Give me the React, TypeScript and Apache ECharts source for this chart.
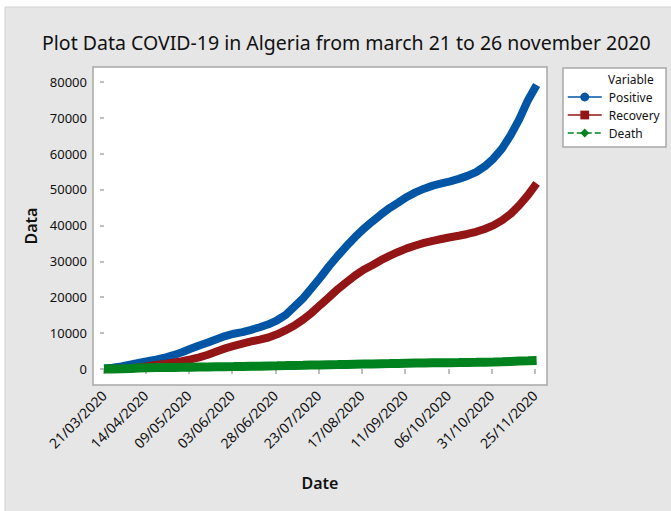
import React, { useEffect, useRef } from "react";
import * as echarts from "echarts";

const days = [
  0, 5, 10, 15, 20, 25, 30, 35, 40, 45, 50, 55, 60, 65, 70, 75, 80, 85, 90, 95,
  100, 105, 110, 115, 120, 125, 130, 135, 140, 145, 150, 155, 160, 165, 170,
  175, 180, 185, 190, 195, 200, 205, 210, 215, 220, 225, 230, 235, 240, 245, 250,
];

const positive = [
  139, 367, 716, 1220, 1700, 2160, 2629, 3127, 3848, 4648, 5623, 6529, 7377,
  8303, 9167, 9831, 10265, 10919, 11631, 12445, 13571, 15070, 17348, 19689,
  22549, 25484, 28615, 31465, 34155, 36699, 39025, 41068, 43016, 44833, 46364,
  47907, 49194, 50214, 51067, 51690, 52268, 52940, 53777, 54829, 56419, 58574,
  61381, 65108, 69591, 74862, 79110,
];

const recovery = [
  30, 40, 70, 90, 400, 800, 1150, 1400, 1780, 2200, 2680, 3250, 3970, 4900,
  5750, 6450, 7080, 7670, 8200, 8770, 9670, 10800, 12100, 13750, 15650, 17850,
  20000, 22200, 24100, 26000, 27650, 28900, 30300, 31500, 32600, 33600, 34400,
  35100, 35700, 36200, 36700, 37100, 37600, 38200, 39000, 40000, 41400, 43200,
  45600, 48400, 51700,
];

const death = [
  17, 25, 44, 130, 256, 336, 384, 419, 444, 465, 502, 536, 561, 609, 653, 683,
  715, 767, 788, 861, 905, 952, 1004, 1040, 1087, 1124, 1174, 1223, 1273, 1322,
  1370, 1418, 1475, 1510, 1556, 1614, 1659, 1689, 1718, 1747, 1775, 1795, 1827,
  1856, 1907, 1964, 2036, 2111, 2196, 2272, 2352,
];

const xTickDays = [0, 24, 49, 74, 99, 124, 149, 174, 199, 224, 249];
const xTickLabels = [
  "21/03/2020",
  "14/04/2020",
  "09/05/2020",
  "03/06/2020",
  "28/06/2020",
  "23/07/2020",
  "17/08/2020",
  "11/09/2020",
  "06/10/2020",
  "31/10/2020",
  "25/11/2020",
];
const yTicks = [0, 10000, 20000, 30000, 40000, 50000, 60000, 70000, 80000];

const BLUE = "#0055A5";
const RED = "#931515";
const GREEN = "#00821E";
const FONT = "'Noto Sans', 'Open Sans', sans-serif";

export default function App() {
  const ref = useRef<HTMLDivElement>(null);
  useEffect(() => {
    document.body.style.margin = "0";
    if (!ref.current) return;
    const chart = echarts.init(ref.current, undefined, { renderer: "svg" });
    const pair = (arr: number[]) => days.map((d, i) => [d, arr[i]]);
    chart.setOption({
      animation: false,
      backgroundColor: "#ffffff",
      textStyle: { fontFamily: FONT },
      graphic: [
        {
          type: "rect",
          z: -10,
          shape: { x: 5, y: 7, width: 680, height: 520 },
          style: { fill: "#E6E6E6", stroke: "#D2D2D2", lineWidth: 1 },
        },
        {
          type: "rect",
          z: 0,
          shape: { x: 563, y: 68, width: 103, height: 79 },
          style: { fill: "#ffffff", stroke: "#A8A8A8", lineWidth: 1.5 },
        },
        {
          type: "text",
          z: 1,
          x: 608,
          y: 73,
          style: {
            text: "Variable",
            font: `12px ${FONT}`,
            fill: "#111",
          },
        },
      ],
      title: {
        text: "Plot Data COVID-19 in Algeria from march 21 to 26 november 2020",
        left: 37,
        top: 27,
        textStyle: {
          fontFamily: FONT,
          fontSize: 19.5,
          fontWeight: "normal",
          color: "#111",
        },
      },
      legend: {
        orient: "vertical",
        left: 567,
        top: 91,
        padding: 0,
        itemWidth: 34,
        itemHeight: 11,
        itemGap: 6,
        z: 5,
        textStyle: { fontFamily: FONT, fontSize: 12, color: "#111", padding: [0, 0, 0, 2] },
        data: [
          { name: "Positive", lineStyle: { width: 1.5, type: "solid" } },
          { name: "Recovery", lineStyle: { width: 1.5, type: "solid" } },
          { name: "Death", lineStyle: { width: 1.5, type: "dashed" } },
        ],
      },
      grid: {
        left: 93,
        top: 67,
        right: 124,
        bottom: 126,
        show: true,
        backgroundColor: "#ffffff",
        borderColor: "#A8A8A8",
        borderWidth: 1.5,
      },
      xAxis: {
        type: "value",
        min: -6.4,
        max: 256,
        name: "Date",
        nameLocation: "middle",
        nameGap: 90,
        nameTextStyle: { fontFamily: FONT, fontSize: 16, fontWeight: 600, color: "#111" },
        axisLine: { show: false },
        splitLine: { show: false },
        axisTick: {
          show: true,
          length: 5,
          customValues: xTickDays,
          lineStyle: { color: "#A8A8A8", width: 1.5 },
        },
        axisLabel: {
          customValues: xTickDays,
          rotate: 45,
          fontSize: 14,
          color: "#111",
          fontFamily: FONT,
          margin: 8,
          formatter: (v: number) => {
            const i = xTickDays.indexOf(Math.round(v));
            return i >= 0 ? xTickLabels[i] : "";
          },
        },
      },
      yAxis: {
        type: "value",
        min: -4455,
        max: 84100,
        name: "Data",
        nameLocation: "middle",
        nameGap: 52,
        nameTextStyle: { fontFamily: FONT, fontSize: 16, fontWeight: 600, color: "#111" },
        axisLine: { show: false },
        splitLine: { show: false },
        axisTick: {
          show: true,
          length: 4,
          customValues: yTicks,
          lineStyle: { color: "#A8A8A8", width: 1.5 },
        },
        axisLabel: {
          customValues: yTicks,
          fontSize: 13,
          color: "#111",
          fontFamily: FONT,
          margin: 6,
          formatter: (v: number) => String(v),
        },
      },
      series: [
        {
          name: "Positive",
          type: "line",
          data: pair(positive),
          symbol: "circle",
          symbolSize: 8,
          showSymbol: false,
          lineStyle: { color: BLUE, width: 8 },
          itemStyle: { color: BLUE },
          z: 3,
        },
        {
          name: "Recovery",
          type: "line",
          data: pair(recovery),
          symbol: "rect",
          symbolSize: 8,
          showSymbol: false,
          lineStyle: { color: RED, width: 8 },
          itemStyle: { color: RED },
          z: 4,
        },
        {
          name: "Death",
          type: "line",
          data: pair(death),
          symbol: "diamond",
          symbolSize: 10,
          showSymbol: false,
          lineStyle: { color: GREEN, width: 9 },
          itemStyle: { color: GREEN },
          z: 5,
        },
      ],
    });
    return () => chart.dispose();
  }, []);
  return <div ref={ref} style={{ width: 671, height: 511 }} />;
}
